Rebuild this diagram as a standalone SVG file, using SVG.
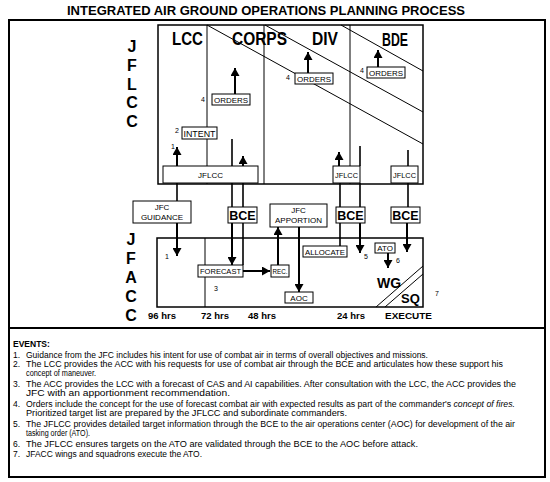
<svg xmlns="http://www.w3.org/2000/svg" width="550" height="482" viewBox="0 0 550 482">
<defs>
<marker id="ah" markerUnits="userSpaceOnUse" markerWidth="8" markerHeight="9" refX="8" refY="4.5" orient="auto"><path d="M0,0 L8,4.5 L0,9 z" fill="#000"/></marker>
<style>
text{font-family:"Liberation Sans",Arial,sans-serif;fill:#000}
.title{font-weight:bold;font-size:12.5px}
.hd{font-weight:bold;font-size:19px}
.big{font-weight:bold;font-size:16px;text-anchor:middle}
.bx{fill:#fff;stroke:#000;stroke-width:1}
.bt{font-size:8px;text-anchor:middle}
.bce{font-weight:bold;font-size:12.5px;text-anchor:middle}
.num{font-size:7px}
.hr{font-weight:bold;font-size:9.5px}
.ev{font-size:8.5px}
.evb{font-size:8.5px;font-weight:bold}
.fr{fill:none;stroke:#000;stroke-width:1.5}
.of{fill:none;stroke:#000;stroke-width:2}
.ln{stroke:#000;stroke-width:1;fill:none}
.ar{stroke:#000;stroke-width:2;fill:none;marker-end:url(#ah)}
.th{stroke:#000;stroke-width:1.6;fill:none}
</style>
</defs>
<rect width="550" height="482" fill="#fff"/>
<text class="title" x="67" y="15" textLength="398" lengthAdjust="spacingAndGlyphs">INTEGRATED AIR GROUND OPERATIONS PLANNING PROCESS</text>
<g id="outer-frame">
<rect class="of" x="9" y="20" width="536" height="457"/>
<line class="of" x1="9" y1="328" x2="545" y2="328"/>
</g>
<g id="jflcc-label">
<text class="big" x="132" y="52">J</text>
<text class="big" x="132" y="71">F</text>
<text class="big" x="132" y="90">L</text>
<text class="big" x="132" y="108">C</text>
<text class="big" x="132" y="127">C</text>
</g>
<g id="jfacc-label">
<text class="big" x="131" y="245">J</text>
<text class="big" x="131" y="264">F</text>
<text class="big" x="131" y="283">A</text>
<text class="big" x="131" y="302">C</text>
<text class="big" x="131" y="321">C</text>
</g>
<g id="jflcc-frame">
<rect class="fr" x="158" y="25" width="265" height="159"/>
<line class="ln" x1="207" y1="25" x2="207" y2="184"/>
<line class="ln" x1="264" y1="25" x2="264" y2="184"/>
<line class="ln" x1="350" y1="25" x2="350" y2="184"/>
<line class="ln" x1="207" y1="25" x2="423" y2="144"/>
<line class="ln" x1="265" y1="25" x2="423" y2="112"/>
<line class="ln" x1="341" y1="25" x2="423" y2="71"/>
<text class="hd" x="172" y="45" textLength="31" lengthAdjust="spacingAndGlyphs">LCC</text>
<text class="hd" x="232" y="45" textLength="55" lengthAdjust="spacingAndGlyphs">CORPS</text>
<text class="hd" x="312" y="45" textLength="26" lengthAdjust="spacingAndGlyphs">DIV</text>
<text class="hd" x="382" y="46" textLength="26" lengthAdjust="spacingAndGlyphs">BDE</text>
</g>
<g id="jfacc-frame">
<rect class="fr" x="157" y="238" width="266" height="69"/>
<line class="ln" x1="205" y1="238" x2="205" y2="307"/>
<line class="ln" x1="376" y1="307" x2="423" y2="266"/>
<line class="ln" x1="385" y1="307" x2="423" y2="274"/>
<text x="377" y="288" style="font-weight:bold;font-size:14px">WG</text>
<text x="401" y="303" style="font-weight:bold;font-size:13px">SQ</text>
</g>
<g id="connectors">
<line class="ar" x1="177" y1="166" x2="177" y2="147"/>
<line class="th" x1="232" y1="139" x2="232" y2="166"/>
<line class="ar" x1="243" y1="166" x2="243" y2="156"/>
<line class="ar" x1="235" y1="94" x2="235" y2="68"/>
<line class="ar" x1="308" y1="73" x2="308" y2="52"/>
<line class="ar" x1="378" y1="67" x2="378" y2="50"/>
<line class="ar" x1="339" y1="166" x2="339" y2="152"/>
<line class="th" x1="360" y1="146" x2="360" y2="166"/>
<line class="th" x1="408" y1="150" x2="408" y2="166"/>
<line class="th" x1="177" y1="183" x2="177" y2="201"/>
<line class="th" x1="232" y1="183" x2="232" y2="207"/>
<line class="th" x1="243" y1="183" x2="243" y2="207"/>
<line class="th" x1="340" y1="183" x2="340" y2="207"/>
<line class="th" x1="360" y1="183" x2="360" y2="207"/>
<line class="th" x1="408" y1="183" x2="408" y2="207"/>
<line class="ar" x1="177" y1="223" x2="177" y2="256"/>
<line class="ar" x1="232" y1="223" x2="232" y2="265"/>
<line class="th" x1="243" y1="223" x2="243" y2="265"/>
<line class="ar" x1="243" y1="271" x2="270" y2="271"/>
<line class="ar" x1="278" y1="265" x2="278" y2="227"/>
<line class="ar" x1="299" y1="227" x2="299" y2="292"/>
<line class="th" x1="340" y1="223" x2="340" y2="246"/>
<line class="ar" x1="360" y1="223" x2="360" y2="253"/>
<line class="ar" x1="388" y1="253" x2="388" y2="268"/>
<line class="ar" x1="407" y1="223" x2="407" y2="252"/>
</g>
<g id="jflcc-lcc">
<rect class="bx" x="163" y="166" width="95" height="17"/>
<text class="bt" x="210.5" y="177.5">JFLCC</text>
</g>
<g id="jflcc-div">
<rect class="bx" x="333" y="166" width="27" height="17"/>
<text class="bt" x="346.5" y="177.5" textLength="23" lengthAdjust="spacingAndGlyphs">JFLCC</text>
</g>
<g id="jflcc-bde">
<rect class="bx" x="391" y="166" width="27" height="17"/>
<text class="bt" x="404.5" y="177.5" textLength="23" lengthAdjust="spacingAndGlyphs">JFLCC</text>
</g>
<g id="intent">
<rect class="bx" x="182" y="127" width="35" height="12"/>
<text class="bt" x="199.5" y="136.5" style="font-size:9px" textLength="32" lengthAdjust="spacingAndGlyphs">INTENT</text>
<text class="num" x="175" y="133">2</text>
<text class="num" x="171" y="149">1</text>
</g>
<g id="orders-lcc">
<rect class="bx" x="212" y="94" width="38" height="11"/>
<text class="bt" x="231" y="102.5" textLength="34" lengthAdjust="spacingAndGlyphs">ORDERS</text>
<text class="num" x="201" y="102">4</text>
</g>
<g id="orders-div">
<rect class="bx" x="295" y="73" width="38" height="11"/>
<text class="bt" x="314" y="81.5" textLength="34" lengthAdjust="spacingAndGlyphs">ORDERS</text>
<text class="num" x="286" y="80">4</text>
</g>
<g id="orders-bde">
<rect class="bx" x="367" y="67" width="38" height="11"/>
<text class="bt" x="386" y="75.5" textLength="34" lengthAdjust="spacingAndGlyphs">ORDERS</text>
<text class="num" x="360" y="73">4</text>
</g>
<g id="jfc-guidance">
<rect class="bx" x="133" y="201" width="58" height="22"/>
<text class="bt" x="162" y="210">JFC</text>
<text class="bt" x="162" y="219.5">GUIDANCE</text>
</g>
<g id="bce-1">
<rect class="bx" x="228" y="207" width="29" height="16"/>
<text class="bce" x="242.5" y="220">BCE</text>
</g>
<g id="bce-2">
<rect class="bx" x="336" y="207" width="29" height="16"/>
<text class="bce" x="350.5" y="220">BCE</text>
</g>
<g id="bce-3">
<rect class="bx" x="391" y="207" width="29" height="16"/>
<text class="bce" x="405.5" y="220">BCE</text>
</g>
<g id="jfc-apportion">
<rect class="bx" x="270" y="204" width="57" height="23"/>
<text class="bt" x="298.5" y="213">JFC</text>
<text class="bt" x="298.5" y="223">APPORTION</text>
</g>
<g id="forecast">
<rect class="bx" x="198" y="265" width="45" height="12"/>
<text class="bt" x="220.5" y="274" textLength="41" lengthAdjust="spacingAndGlyphs">FORECAST</text>
<text class="num" x="214" y="291">3</text>
<text class="num" x="165" y="259">1</text>
</g>
<g id="rec">
<rect class="bx" x="271" y="265" width="18" height="12"/>
<text class="bt" x="280" y="274" textLength="15" lengthAdjust="spacingAndGlyphs">REC.</text>
</g>
<g id="aoc">
<rect class="bx" x="285" y="292" width="28" height="11"/>
<text class="bt" x="299" y="300.5">AOC</text>
</g>
<g id="allocate">
<rect class="bx" x="303" y="246" width="44" height="11"/>
<text class="bt" x="325" y="254.5" textLength="40" lengthAdjust="spacingAndGlyphs">ALLOCATE</text>
<text class="num" x="364" y="259">5</text>
</g>
<g id="ato">
<rect class="bx" x="375" y="243" width="20" height="10"/>
<text class="bt" x="385" y="251">ATO</text>
<text class="num" x="396" y="263">6</text>
<text class="num" x="435" y="296">7</text>
</g>
<g id="timeline">
<text class="hr" x="148" y="319">96 hrs</text>
<text class="hr" x="201" y="319">72 hrs</text>
<text class="hr" x="248" y="319">48 hrs</text>
<text class="hr" x="337" y="319">24 hrs</text>
<text class="hr" x="385" y="319" textLength="47" lengthAdjust="spacingAndGlyphs">EXECUTE</text>
</g>
<g id="events">
<text class="evb" x="13" y="347">EVENTS:</text>
<text class="ev" x="13" y="357.5">1.</text>
<text class="ev" x="26" y="357.5" textLength="402" lengthAdjust="spacingAndGlyphs">Guidance from the JFC includes his intent for use of combat air in terms of overall objectives and missions.</text>
<text class="ev" x="13" y="367">2.</text>
<text class="ev" x="26" y="367" textLength="477" lengthAdjust="spacingAndGlyphs">The LCC provides the ACC with his requests for use of combat air through the BCE and articulates how these support his</text>
<text class="ev" x="26" y="376" textLength="70" lengthAdjust="spacingAndGlyphs">concept of maneuver.</text>
<text class="ev" x="13" y="386.5">3.</text>
<text class="ev" x="26" y="386.5" textLength="490" lengthAdjust="spacingAndGlyphs">The ACC provides the LCC with a forecast of CAS and AI capabilities.  After consultation with the LCC, the ACC provides the</text>
<text class="ev" x="26" y="396" textLength="204" lengthAdjust="spacingAndGlyphs">JFC with an apportionment recommendation.</text>
<text class="ev" x="13" y="407">4.</text>
<text class="ev" x="26" y="407" textLength="489" lengthAdjust="spacingAndGlyphs">Orders include the concept for the use of forecast combat air with expected results as part of the commander's <tspan font-style="italic">concept of fires.</tspan></text>
<text class="ev" x="26" y="416" textLength="321" lengthAdjust="spacingAndGlyphs">Prioritized target list are prepared by the JFLCC and subordinate commanders.</text>
<text class="ev" x="13" y="426.5">5.</text>
<text class="ev" x="26" y="426.5" textLength="489" lengthAdjust="spacingAndGlyphs">The JFLCC provides detailed target information through the BCE to the air operations center (AOC) for development of the air</text>
<text class="ev" x="26" y="436" textLength="64" lengthAdjust="spacingAndGlyphs">tasking order (ATO).</text>
<text class="ev" x="13" y="446.5">6.</text>
<text class="ev" x="26" y="446.5" textLength="392" lengthAdjust="spacingAndGlyphs">The JFLCC ensures targets on the ATO are validated through the BCE to the AOC before attack.</text>
<text class="ev" x="13" y="456.5">7.</text>
<text class="ev" x="26" y="456.5" textLength="176" lengthAdjust="spacingAndGlyphs">JFACC wings and squadrons execute the ATO.</text>
</g>
</svg>
